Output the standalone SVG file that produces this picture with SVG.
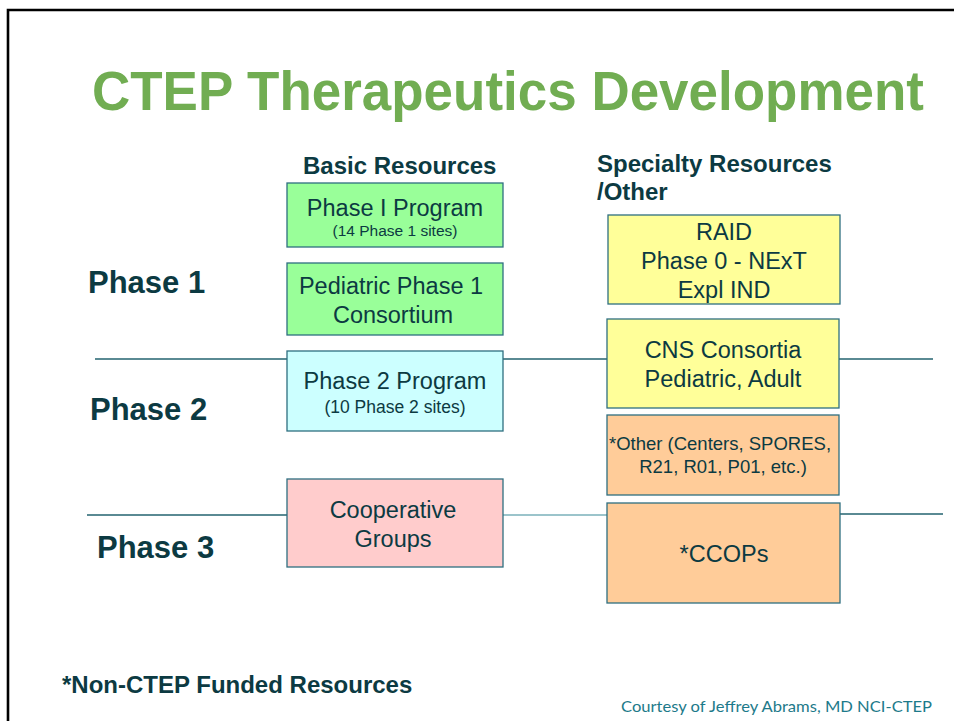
<svg xmlns="http://www.w3.org/2000/svg" width="954" height="721" viewBox="0 0 954 721">
  <style>
    .frame { fill: none; stroke: #000; stroke-width: 2.6; }
    .rule { stroke: #23636F; stroke-width: 1.3; fill: none; }
    .rule-light { stroke: #7AB0BA; stroke-width: 1.6; fill: none; }
    .box { stroke: #2E6F80; stroke-width: 1.3; }
    .green { fill: #99FF99; }
    .cyan { fill: #CCFFFF; }
    .pink { fill: #FFCCCC; }
    .yellow { fill: #FFFF99; }
    .orange { fill: #FFCC99; }
    text { font-family: "Liberation Sans", Arial, sans-serif; fill: #0C3A42; }
    .title { font-size: 56px; font-weight: bold; fill: #71AD52; }
    .head { font-size: 24px; font-weight: bold; }
    .phase { font-size: 31px; font-weight: bold; }
    .lbl { font-size: 23.5px; text-anchor: middle; }
    .sub { text-anchor: middle; }
    .note { font-family: Lato, "Open Sans", sans-serif; font-size: 16px; fill: #1D7A8A; }
  </style>

  <rect width="954" height="721" fill="#fff"/>
  <!-- slide frame (top and left edges) -->
  <path class="frame" d="M8 721 V10 H954"/>

  <!-- title, slightly condensed -->
  <g transform="translate(92,110) scale(0.946,1)">
    <text class="title" x="0" y="0">CTEP Therapeutics Development</text>
  </g>

  <!-- column headings -->
  <text class="head" x="303" y="174">Basic Resources</text>
  <text class="head" x="597" y="172">Specialty Resources</text>
  <text class="head" x="597" y="200">/Other</text>

  <!-- row labels -->
  <text class="phase" x="88" y="293">Phase 1</text>
  <text class="phase" x="90" y="420">Phase 2</text>
  <text class="phase" x="97" y="558">Phase 3</text>

  <!-- phase dividers -->
  <g id="connectors">
    <line class="rule" x1="95" y1="359" x2="287" y2="359"/>
    <line class="rule" x1="503" y1="359" x2="607" y2="359"/>
    <line class="rule" x1="839" y1="359" x2="933" y2="359"/>
    <line class="rule" x1="87" y1="515" x2="287" y2="515"/>
    <line class="rule-light" x1="503" y1="515" x2="607" y2="515"/>
    <line class="rule" x1="840" y1="514" x2="943" y2="514"/>
  </g>

  <g id="phase1-program">
    <rect class="box green" x="287" y="183" width="216" height="64"/>
    <text class="lbl" x="395" y="216">Phase I Program</text>
    <text class="sub" x="395" y="236" font-size="15.5">(14 Phase 1 sites)</text>
  </g>

  <g id="pediatric-phase1">
    <rect class="box green" x="287" y="263" width="216" height="72"/>
    <text class="lbl" x="391" y="294">Pediatric Phase 1</text>
    <text class="lbl" x="393" y="323">Consortium</text>
  </g>

  <g id="phase2-program">
    <rect class="box cyan" x="287" y="351" width="216" height="80"/>
    <text class="lbl" x="395" y="389">Phase 2 Program</text>
    <text class="sub" x="395" y="413" font-size="17.5">(10 Phase 2 sites)</text>
  </g>

  <g id="cooperative-groups">
    <rect class="box pink" x="287" y="479" width="216" height="88"/>
    <text class="lbl" x="393" y="518">Cooperative</text>
    <text class="lbl" x="393" y="547">Groups</text>
  </g>

  <g id="raid">
    <rect class="box yellow" x="608" y="215" width="232" height="89"/>
    <text class="lbl" x="724" y="240">RAID</text>
    <text class="lbl" x="724" y="269">Phase 0 - NExT</text>
    <text class="lbl" x="724" y="298">Expl IND</text>
  </g>

  <g id="cns-consortia">
    <rect class="box yellow" x="607" y="319" width="232" height="89"/>
    <text class="lbl" x="723" y="358">CNS Consortia</text>
    <text class="lbl" x="723" y="387">Pediatric, Adult</text>
  </g>

  <g id="other">
    <rect class="box orange" x="607" y="415" width="232" height="80"/>
    <text class="sub" x="720" y="450" font-size="18.5">*Other (Centers, SPORES,</text>
    <text class="sub" x="723" y="473" font-size="18.5">R21, R01, P01, etc.)</text>
  </g>

  <g id="ccops">
    <rect class="box orange" x="607" y="503" width="233" height="100"/>
    <text class="lbl" x="724" y="562">*CCOPs</text>
  </g>

  <text class="head" x="62" y="693">*Non-CTEP Funded Resources</text>
  <text class="note" x="621" y="712" textLength="311" lengthAdjust="spacingAndGlyphs">Courtesy of Jeffrey Abrams, MD NCI-CTEP</text>
</svg>
